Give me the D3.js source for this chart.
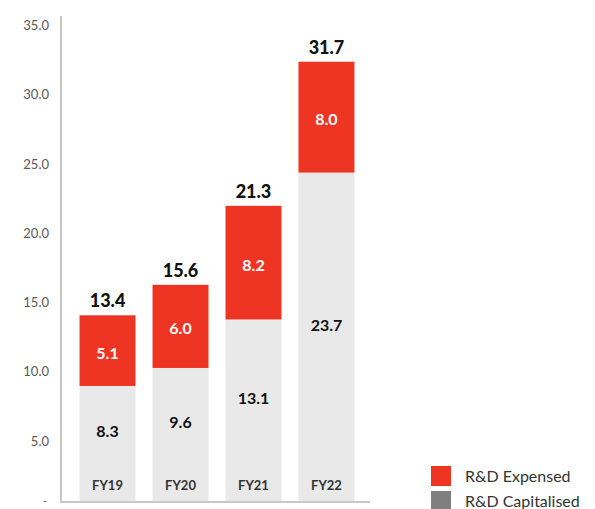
<!DOCTYPE html>
<html>
<head>
<meta charset="utf-8">
<script src="https://cdn.jsdelivr.net/npm/d3@7"></script>
<style>
  body { margin: 0; background: #fff; }
  svg { display: block; font-family: Lato, "Open Sans", sans-serif; }
</style>
</head>
<body>
<div class="chart"></div>
<script>
const years = ["FY19", "FY20", "FY21", "FY22"];
const capitalised = [8.3, 9.6, 13.1, 23.7];
const expensed = [5.1, 6.0, 8.2, 8.0];
const totals = [13.4, 15.6, 21.3, 31.7];
const yTicks = [0, 5, 10, 15, 20, 25, 30, 35];
const legendNames = ["R&D Expensed", "R&D Capitalised"];

const width = 595, height = 509;
const red = "#ee3524", lightGrey = "#e9e9e9", legendGrey = "#7f7f80";

const svg = d3.select(".chart").append("svg")
    .attr("width", width)
    .attr("height", height)

const x = d3.scaleBand().domain(years).range([71, 363]).paddingInner(0.233).paddingOuter(0.117);
const y = d3.scaleLinear().domain([0, 35]).range([501, 16]);

// axis lines
svg.append("line")
    .attr("x1", 61).attr("x2", 61)
    .attr("y1", y(35)).attr("y2", 502)
    .attr("stroke", "#c8c8c8").attr("stroke-width", 2)
svg.append("line")
    .attr("x1", 60).attr("x2", 370)
    .attr("y1", 502).attr("y2", 502)
    .attr("stroke", "#c8c8c8").attr("stroke-width", 2)

// tick labels (zero shown as a dash)
svg.append("g").selectAll("text")
    .data(yTicks)
    .join("text")
    .attr("x", d => d === 0 ? 47 : 49)
    .attr("y", d => d === 0 ? y(d) + 4 : y(d) + 14)
    .attr("text-anchor", "end")
    .style("font-size", d => d === 0 ? "11px" : "13px")
    .style("fill", "#5a5a5a")
    .text(d => d === 0 ? "-" : d.toFixed(1))

const rows = years.map((yr, i) => ({ yr, cap: capitalised[i], exp: expensed[i], total: totals[i] }));

const bar = svg.append("g").selectAll("g")
    .data(rows)
    .join("g")

bar.append("rect")
    .attr("x", d => x(d.yr))
    .attr("width", x.bandwidth())
    .attr("y", d => y(d.cap))
    .attr("height", d => y(0) - y(d.cap))
    .attr("fill", lightGrey)

bar.append("rect")
    .attr("x", d => x(d.yr))
    .attr("width", x.bandwidth())
    .attr("y", d => y(d.cap + d.exp))
    .attr("height", d => y(d.cap) - y(d.cap + d.exp))
    .attr("fill", red)

bar.append("text")
    .attr("x", d => x(d.yr) + x.bandwidth() / 2)
    .attr("y", d => y(d.total) - 8)
    .attr("text-anchor", "middle")
    .style("font-size", "18px")
    .style("font-weight", "900")
    .style("fill", "#111")
    .text(d => d.total.toFixed(1))

bar.append("text")
    .attr("x", d => x(d.yr) + x.bandwidth() / 2)
    .attr("y", d => (y(d.cap) + y(d.cap + d.exp)) / 2 + 8)
    .attr("text-anchor", "middle")
    .style("font-size", "16px")
    .style("font-weight", "bold")
    .style("fill", "#fff")
    .text(d => d.exp.toFixed(1))

bar.append("text")
    .attr("x", d => x(d.yr) + x.bandwidth() / 2)
    .attr("y", d => (y(d.cap) + y(0)) / 2 - 6)
    .attr("text-anchor", "middle")
    .style("font-size", "16px")
    .style("font-weight", "bold")
    .style("fill", "#111")
    .text(d => d.cap.toFixed(1))

bar.append("text")
    .attr("x", d => x(d.yr) + x.bandwidth() / 2)
    .attr("y", 490)
    .attr("text-anchor", "middle")
    .style("font-size", "13px")
    .style("font-weight", "bold")
    .style("fill", "#333")
    .text(d => d.yr)

// legend
const legend = svg.append("g").selectAll("g")
    .data(legendNames)
    .join("g")
    .attr("transform", (d, i) => `translate(431, ${466 + i * 25})`)

legend.append("rect")
    .attr("width", 20).attr("height", 20)
    .attr("fill", (d, i) => i === 0 ? red : legendGrey)

legend.append("text")
    .attr("x", 34)
    .attr("y", 16)
    .style("font-size", "16px")
    .style("fill", "#333")
    .text(d => d)
</script>
</body>
</html>
